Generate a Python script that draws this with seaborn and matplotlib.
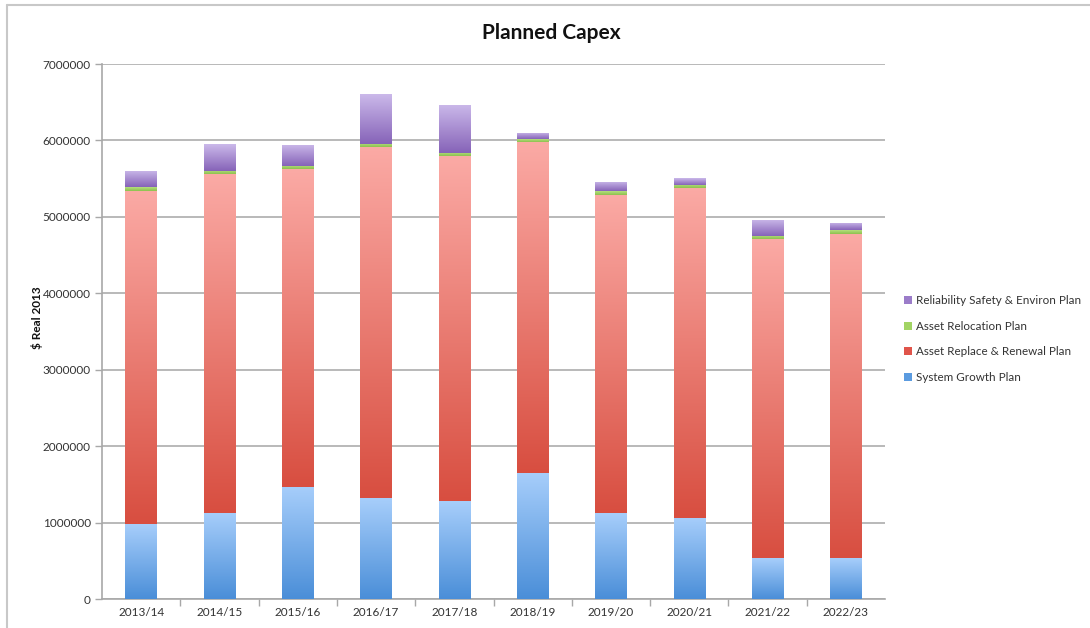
import numpy as np
import pandas as pd
import matplotlib
matplotlib.use("Agg")
import matplotlib.pyplot as plt
import seaborn as sns
from matplotlib.colors import LinearSegmentedColormap
from matplotlib.patches import Patch
from matplotlib.lines import Line2D

# ---- data ----
years = ["2013/14", "2014/15", "2015/16", "2016/17", "2017/18",
         "2018/19", "2019/20", "2020/21", "2021/22", "2022/23"]
system_growth = [980000, 1130000, 1470000, 1320000, 1280000,
                 1650000, 1120000, 1060000, 530000, 530000]
asset_replace = [4360000, 4430000, 4150000, 4590000, 4510000,
                 4330000, 4170000, 4320000, 4180000, 4250000]
asset_relocation = [45000, 43000, 45000, 43000, 44000,
                    35000, 43000, 40000, 44000, 43000]
reliability = [217000, 353000, 275000, 650000, 632000,
               80000, 127000, 84000, 210000, 100000]
series_names = ["System Growth Plan", "Asset Replace & Renewal Plan",
                "Asset Relocation Plan", "Reliability Safety & Environ Plan"]
yticks = [0, 1000000, 2000000, 3000000, 4000000, 5000000, 6000000, 7000000]

# gradient colours (top, bottom) per series
grad = {
    "System Growth Plan": ("#A7CEFB", "#4A8ED8"),
    "Asset Replace & Renewal Plan": ("#FBAAA5", "#D84E40"),
    "Asset Relocation Plan": ("#B5E07E", "#8DC04E"),
    "Reliability Safety & Environ Plan": ("#CBB9EA", "#8663B8"),
}
legend_col = {
    "System Growth Plan": "#5B9BE0",
    "Asset Replace & Renewal Plan": "#E0544A",
    "Asset Relocation Plan": "#A2D464",
    "Reliability Safety & Environ Plan": "#9B7CC9",
}

sns.set_theme(style="white")
plt.rcParams["font.family"] = ["Lato", "DejaVu Sans"]

fig = plt.figure(figsize=(10.9, 6.28), dpi=100)
ax = fig.add_axes([102 / 1090, 1 - 599 / 628, (885 - 102) / 1090, (599 - 64) / 628])

values = [system_growth, asset_replace, asset_relocation, reliability]
bottom = np.zeros(len(years))
for name, vals in zip(series_names, values):
    n_before = len(ax.patches)
    sns.barplot(x=years, y=vals, bottom=bottom, color=legend_col[name],
                width=0.4, errorbar=None, ax=ax, linewidth=0, zorder=3)
    new_patches = ax.patches[n_before:]
    cmap = LinearSegmentedColormap.from_list(name, [grad[name][0], grad[name][1]])
    for p in new_patches:
        x0, y0 = p.get_x(), p.get_y()
        w, h = p.get_width(), p.get_height()
        g = np.linspace(0, 1, 256).reshape(-1, 1)
        im = ax.imshow(g, cmap=cmap, extent=[x0, x0 + w, y0, y0 + h],
                       aspect="auto", origin="upper", zorder=3.5,
                       interpolation="bilinear")
        im.set_clip_path(p)
        p.set_facecolor("none")
    bottom = bottom + np.array(vals)

ax.set_xlim(-0.5, len(years) - 0.5)
ax.set_ylim(0, 7000000)
ax.set_yticks(yticks)
ax.set_yticklabels([str(v) for v in yticks])
ax.set_xticks(range(len(years)))
ax.set_xticklabels(years)
ax.set_xticks(np.arange(0.5, len(years) - 1, 1.0), minor=True)
ax.yaxis.grid(True, color="#B3B3B3", linewidth=1.3, zorder=0)
ax.xaxis.grid(False)
ax.set_axisbelow(True)
for s in ["top", "right"]:
    ax.spines[s].set_visible(False)
for s in ["left", "bottom"]:
    ax.spines[s].set_color("#A8A8A8")
    ax.spines[s].set_linewidth(1.2)
ax.tick_params(axis="y", which="major", length=5, width=1, color="#A8A8A8",
               labelsize=8.5, labelcolor="#333333", left=True, pad=3)
ax.tick_params(axis="x", which="major", length=0, labelsize=8.5,
               labelcolor="#333333", pad=6)
ax.tick_params(axis="x", which="minor", length=5, width=1, color="#A8A8A8",
               bottom=True)
ax.set_xlabel("")
ax.set_ylabel("")

fig.text(37 / 1090, 1 - 318 / 628, "$ Real 2013", rotation=90, ha="center",
         va="center", fontsize=8.5, fontweight="bold", color="#111111")
fig.text(551 / 1090, 1 - 33 / 628, "Planned Capex", ha="center", va="center",
         fontsize=15, fontweight="bold", color="#111111")

handles = [Patch(facecolor=legend_col[n], edgecolor="none") for n in series_names[::-1]]
fig.legend(handles, series_names[::-1], loc="center left",
           bbox_to_anchor=(893 / 1090, 1 - 339 / 628), frameon=False,
           fontsize=8.4, handlelength=0.7, handleheight=0.7, handletextpad=0.4,
           labelspacing=1.25, labelcolor="#333333")

# outer chart frame
fig.add_artist(Line2D([7 / 1090, 1], [1 - 5 / 628, 1 - 5 / 628],
                      transform=fig.transFigure, color="#C8C8C8", linewidth=1.5))
fig.add_artist(Line2D([7 / 1090, 7 / 1090], [0, 1 - 5 / 628],
                      transform=fig.transFigure, color="#C8C8C8", linewidth=1.5))

fig.savefig("out.png", dpi=100)
